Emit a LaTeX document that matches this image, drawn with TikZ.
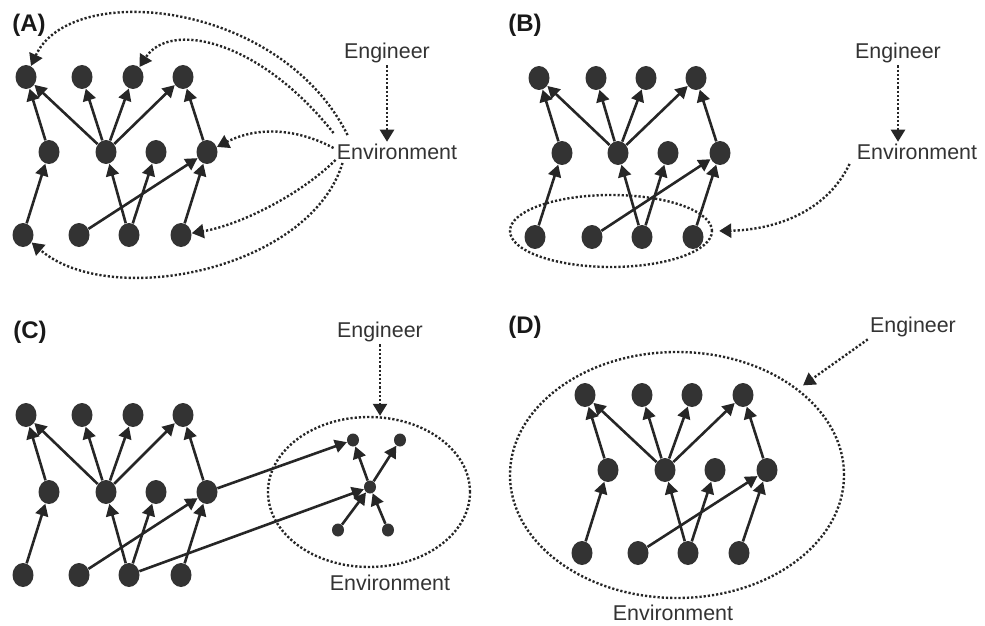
\documentclass[tikz,border=0pt]{standalone}
\usepackage{fontspec}
\setmainfont{Liberation Sans}
\usepackage{xcolor}
\usetikzlibrary{shapes.geometric,arrows.meta}

\tikzset{
  unit/.style={ellipse,fill=black!80,inner sep=0pt,minimum width=10.5pt,minimum height=12pt},
  small/.style={ellipse,fill=black!80,inner sep=0pt,minimum width=6pt,minimum height=6.5pt},
  link/.style={-{Triangle[length=6pt,width=6.5pt]},line width=1.3pt,black!85},
  influence/.style={-{Triangle[length=6pt,width=7pt]},line width=1.2pt,black!85,dash pattern=on 1.1pt off 1pt},
  group/.style={ellipse,draw=black!85,line width=1.2pt,dash pattern=on 1.1pt off 1pt,inner sep=0pt},
  actor/.style={font=\fontsize{10.7}{12}\selectfont,text=black!80,inner sep=1pt},
  panel/.style={font=\fontsize{12}{14}\selectfont\bfseries,text=black!90}
}

\begin{document}
\begin{tikzpicture}[x=0.5pt,y=-0.5pt]
\useasboundingbox (0,0) rectangle (985,626);

% (A)
\node (labA) at (29,25) [panel] {(A)};
\node (a1) at (26,77) [unit] {};
\node (a2) at (82,77) [unit] {};
\node (a3) at (133,77) [unit] {};
\node (a4) at (183,77) [unit] {};
\node (a5) at (49,152) [unit] {};
\node (a6) at (106,152) [unit] {};
\node (a7) at (156,152) [unit] {};
\node (a8) at (207,152) [unit] {};
\node (a9) at (23,235) [unit] {};
\node (a10) at (79,235) [unit] {};
\node (a11) at (129,235) [unit] {};
\node (a12) at (181,235) [unit] {};
\draw [link] (a5) -- (a1);
\draw [link] (a6) -- (a1);
\draw [link] (a6) -- (a2);
\draw [link] (a6) -- (a3);
\draw [link] (a6) -- (a4);
\draw [link] (a8) -- (a4);
\draw [link] (a9) -- (a5);
\draw [link] (a10) -- (a8);
\draw [link] (a11) -- (a6);
\draw [link] (a11) -- (a7);
\draw [link] (a12) -- (a8);
\node (engA) at (387,53) [actor] {Engineer};
\node (envA) at (397,152) [actor] {Environment};
\draw [influence] (engA.south) -- (engA.south |- envA.north);
\draw [influence] ([shift={(13,-17)}]envA.west) .. controls (280,0) and (70,-20) .. (a1);
\draw [influence] ([shift={(-1,-19)}]envA.west) .. controls (260,40) and (170,20) .. (a3);
\draw [influence] ([shift={(-1,-4)}]envA.west) .. controls (300,130) and (260,125) .. (a8);
\draw [influence] ([shift={(1,8)}]envA.west) .. controls (300,195) and (240,225) .. (a12);
\draw [influence] ([shift={(8,11)}]envA.west) .. controls (310,270) and (110,310) .. (a9);

% (B)
\node (labB) at (525,25) [panel] {(B)};
\node (grpB) at (611,231) [group,minimum width=101pt,minimum height=36pt] {};
\node (b1) at (539,78) [unit] {};
\node (b2) at (596,78) [unit] {};
\node (b3) at (646,78) [unit] {};
\node (b4) at (696,78) [unit] {};
\node (b5) at (562,153) [unit] {};
\node (b6) at (618,153) [unit] {};
\node (b7) at (668,153) [unit] {};
\node (b8) at (720,153) [unit] {};
\node (b9) at (535,237) [unit] {};
\node (b10) at (592,237) [unit] {};
\node (b11) at (642,237) [unit] {};
\node (b12) at (693,237) [unit] {};
\draw [link] (b5) -- (b1);
\draw [link] (b6) -- (b1);
\draw [link] (b6) -- (b2);
\draw [link] (b6) -- (b3);
\draw [link] (b6) -- (b4);
\draw [link] (b8) -- (b4);
\draw [link] (b9) -- (b5);
\draw [link] (b10) -- (b8);
\draw [link] (b11) -- (b6);
\draw [link] (b11) -- (b7);
\draw [link] (b12) -- (b8);
\node (engB) at (898,53) [actor] {Engineer};
\node (envB) at (917,152) [actor] {Environment};
\draw [influence] (engB.south) -- (engB.south |- envB.north);
\draw [influence,shorten >=3pt] ([shift={(-5,12)}]envB.west) .. controls (825,215) and (770,230) .. (grpB.east);

% (C)
\node (labC) at (30,332) [panel] {(C)};
\node (grpC) at (369,492) [group,minimum width=101pt,minimum height=75pt] {};
\node (c1) at (26,415) [unit] {};
\node (c2) at (82,415) [unit] {};
\node (c3) at (133,415) [unit] {};
\node (c4) at (183,415) [unit] {};
\node (c5) at (49,492) [unit] {};
\node (c6) at (106,492) [unit] {};
\node (c7) at (156,492) [unit] {};
\node (c8) at (207,492) [unit] {};
\node (c9) at (23,575) [unit] {};
\node (c10) at (79,575) [unit] {};
\node (c11) at (129,575) [unit] {};
\node (c12) at (181,575) [unit] {};
\node (s1) at (353,440) [small] {};
\node (s2) at (400,440) [small] {};
\node (s3) at (370,487) [small] {};
\node (s4) at (338,530) [small] {};
\node (s5) at (388,530) [small] {};
\draw [link] (c5) -- (c1);
\draw [link] (c6) -- (c1);
\draw [link] (c6) -- (c2);
\draw [link] (c6) -- (c3);
\draw [link] (c6) -- (c4);
\draw [link] (c8) -- (c4);
\draw [link] (c9) -- (c5);
\draw [link] (c10) -- (c8);
\draw [link] (c11) -- (c6);
\draw [link] (c11) -- (c7);
\draw [link] (c12) -- (c8);
\draw [link] (c8) -- (s1);
\draw [link] (c11) -- (s3);
\draw [link] (s3) -- (s1);
\draw [link] (s3) -- (s2);
\draw [link] (s4) -- (s3);
\draw [link] (s5) -- (s3);
\node (engC) at (380,332) [actor] {Engineer};
\node (envC) at (390,583) [actor] {Environment};
\draw [influence] (engC.south) -- (engC.south |- grpC.north);

% (D)
\node (labD) at (525,327) [panel] {(D)};
\node (grpD) at (677,475) [group,minimum width=167pt,minimum height=123pt] {};
\node (d1) at (585,395) [unit] {};
\node (d2) at (642,395) [unit] {};
\node (d3) at (692,395) [unit] {};
\node (d4) at (743,395) [unit] {};
\node (d5) at (608,470) [unit] {};
\node (d6) at (665,470) [unit] {};
\node (d7) at (715,470) [unit] {};
\node (d8) at (767,470) [unit] {};
\node (d9) at (582,553) [unit] {};
\node (d10) at (638,553) [unit] {};
\node (d11) at (688,553) [unit] {};
\node (d12) at (739,553) [unit] {};
\draw [link] (d5) -- (d1);
\draw [link] (d6) -- (d1);
\draw [link] (d6) -- (d2);
\draw [link] (d6) -- (d3);
\draw [link] (d6) -- (d4);
\draw [link] (d8) -- (d4);
\draw [link] (d9) -- (d5);
\draw [link] (d10) -- (d8);
\draw [link] (d11) -- (d6);
\draw [link] (d11) -- (d7);
\draw [link] (d12) -- (d8);
\node (engD) at (913,327) [actor] {Engineer};
\node (envD) at (673,613) [actor] {Environment};
\draw [influence,shorten >=3pt] (engD.south west) -- (grpD);
\end{tikzpicture}
\end{document}
